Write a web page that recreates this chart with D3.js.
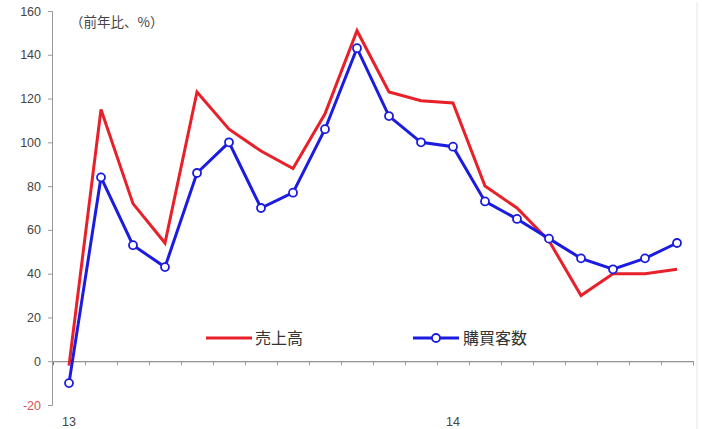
<!DOCTYPE html>
<html><head><meta charset="utf-8">
<script src="https://cdn.jsdelivr.net/npm/d3@7"></script>
<style>
html,body{margin:0;padding:0;background:#fff;}
svg{display:block;font-family:"Liberation Sans",Arial,sans-serif;}
</style></head>
<body><svg id="c" width="702" height="429"></svg>
<script>
const months = ["13","","","","","","","","","","","","14","","","","","","",""];
const sales = [-2,115,72,54,123,106,96,88,113,151,123,119,118,80,70,55,30,40,40,42];
const customers = [-10,84,53,43,86,100,70,77,106,143,112,100,98,73,65,56,47,42,47,54];
const yTicks = [-20,0,20,40,60,80,100,120,140,160];
const seriesNames = ["売上高","購買客数"];
const unitLabel = "（前年比、%）";

(function(){
const svg = d3.select("#c");
const pL = 53, pR = 693, pT = 11, pB = 405;
const x = d3.scaleBand().domain(d3.range(months.length)).range([pL, pR]).paddingInner(0).paddingOuter(0);
const y = d3.scaleLinear().domain([-20,160]).range([pB, pT]);

// faint chart frame on right
svg.append("line").attr("x1",697).attr("x2",697).attr("y1",2).attr("y2",429).attr("stroke","#e6e6e6");

// y axis
const yAxis = d3.axisLeft(y).tickValues(yTicks).tickSize(4).tickPadding(7).tickFormat(d=>d);
const gy = svg.append("g").attr("transform",`translate(${pL-1},0)`).call(yAxis);
gy.select(".domain").attr("stroke","#999");
gy.selectAll(".tick line").attr("stroke","#999");
gy.selectAll(".tick text").attr("fill",d=>d<0?"#e05050":"#444").attr("font-size",12.5);

// x axis at zero
const xAxis = d3.axisBottom(d3.scaleLinear().domain([0,months.length]).range([pL,pR]))
  .tickValues(d3.range(1,months.length+1)).tickSize(4).tickFormat("");
const gx = svg.append("g").attr("transform",`translate(0,${y(0)})`).call(xAxis);
gx.select(".domain").attr("stroke","#777");
gx.selectAll(".tick line").attr("stroke","#999");

// category labels
svg.append("g").selectAll("text").data(months.map((m,i)=>({m,i})).filter(d=>d.m)).join("text")
  .attr("x",d=>x(d.i)+x.bandwidth()/2).attr("y",426).attr("text-anchor","middle")
  .attr("font-size",12.5).attr("fill","#444").text(d=>d.m);

// unit label
svg.append("text").attr("x",70).attr("y",27).attr("font-size",13.5).attr("fill","#444")
  .attr("font-family","Noto Sans CJK JP").text(unitLabel);

const cx = i => x(i)+x.bandwidth()/2;
const line = d3.line().x((d,i)=>cx(i)).y(d=>y(d));

svg.append("path").datum(sales).attr("d",line).attr("fill","none")
  .attr("stroke","#e8202a").attr("stroke-width",3).attr("stroke-linejoin","miter");
svg.append("path").datum(customers).attr("d",line).attr("fill","none")
  .attr("stroke","#1c1ce0").attr("stroke-width",3).attr("stroke-linejoin","miter");
svg.append("g").selectAll("circle").data(customers).join("circle")
  .attr("cx",(d,i)=>cx(i)).attr("cy",d=>y(d)).attr("r",4)
  .attr("fill","#fff").attr("stroke","#1c1ce0").attr("stroke-width",1.8);

// legend
const lg = svg.append("g");
lg.append("line").attr("x1",206).attr("x2",252).attr("y1",338).attr("y2",338).attr("stroke","#e8202a").attr("stroke-width",3);
lg.append("text").attr("x",255).attr("y",344).attr("font-size",16).attr("fill","#333")
  .attr("font-family","Noto Sans CJK JP").text(seriesNames[0]);
lg.append("line").attr("x1",413).attr("x2",459).attr("y1",338).attr("y2",338).attr("stroke","#1c1ce0").attr("stroke-width",3);
lg.append("circle").attr("cx",436).attr("cy",338).attr("r",4).attr("fill","#fff").attr("stroke","#1c1ce0").attr("stroke-width",1.8);
lg.append("text").attr("x",463).attr("y",344).attr("font-size",16).attr("fill","#333")
  .attr("font-family","Noto Sans CJK JP").text(seriesNames[1]);
})();
</script></body></html>
